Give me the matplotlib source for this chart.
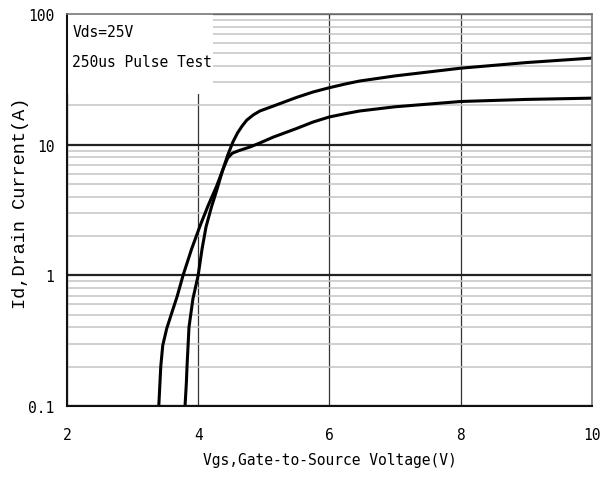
import numpy as np
import matplotlib.pyplot as plt
from matplotlib.ticker import LogLocator, NullFormatter
from matplotlib.patches import Rectangle

# transfer characteristics, two curves read at Vds=25V
vgs_a = [3.80, 3.82, 3.83, 3.86, 3.92, 4.00, 4.06, 4.12, 4.20, 4.29, 4.37, 4.45,
         4.53, 4.60, 4.67, 4.74, 4.84, 4.94, 5.14, 5.50, 5.75, 6.00, 6.25, 6.46,
         7.00, 8.00, 9.00, 10.00]
id_a = [0.10, 0.15, 0.20, 0.40, 0.66, 1.00, 1.60, 2.35, 3.30, 4.60, 6.30, 8.30,
        10.5, 12.3, 13.9, 15.4, 16.9, 18.1, 19.7, 23.0, 25.3, 27.3, 29.2, 30.7,
        33.6, 38.5, 42.5, 46.0]

vgs_b = [3.40, 3.43, 3.46, 3.52, 3.60, 3.68, 3.77, 3.90, 4.03, 4.15, 4.28, 4.39,
         4.45, 4.52, 4.62, 4.79, 4.94, 5.14, 5.50, 5.75, 6.00, 6.25, 6.46, 7.00,
         8.00, 9.00, 10.00]
id_b = [0.10, 0.20, 0.29, 0.39, 0.52, 0.69, 1.00, 1.59, 2.40, 3.40, 4.80, 6.70,
        7.90, 8.60, 9.00, 9.60, 10.3, 11.4, 13.3, 14.9, 16.3, 17.3, 18.1, 19.5,
        21.4, 22.2, 22.7]

x_ticks = [2, 4, 6, 8, 10]
y_ticks = [0.1, 1, 10, 100]
y_tick_labels = ['0.1', '1', '10', '100']
notes = ['Vds=25V', '250us Pulse Test']

mono = 'DejaVu Sans Mono'

fig = plt.figure(figsize=(6.14, 4.85), dpi=100)
ax = fig.add_axes([0.109, 0.161, 0.855, 0.808])

ax.set_yscale('log')
ax.set_xlim(2, 10)
ax.set_ylim(0.1, 100)
ax.set_xticks(x_ticks)
ax.set_xticklabels([str(v) for v in x_ticks], family=mono, fontsize=10.5)
ax.set_yticks(y_ticks)
ax.set_yticklabels(y_tick_labels, family=mono, fontsize=10.5)
ax.yaxis.set_minor_locator(LogLocator(base=10, subs=np.arange(2, 10)))
ax.yaxis.set_minor_formatter(NullFormatter())
ax.tick_params(which='both', length=0)
ax.tick_params(axis='x', pad=15)
ax.tick_params(axis='y', pad=9)

ax.set_axisbelow(True)
ax.grid(axis='x', which='major', color='#333333', lw=0.9)
ax.grid(axis='y', which='major', color='#222222', lw=1.6)
ax.grid(axis='y', which='minor', color='#c4c4c4', lw=1.1)

for side in ['left', 'bottom']:
    ax.spines[side].set_color('#111111')
    ax.spines[side].set_linewidth(1.5)
for side in ['top', 'right']:
    ax.spines[side].set_color('#777777')
    ax.spines[side].set_linewidth(1.2)

# white panel behind the test conditions
ax.add_patch(Rectangle((0, 0.796), 0.278, 0.204, transform=ax.transAxes,
                       facecolor='white', edgecolor='none', zorder=1))
ax.text(0.01, 0.955, notes[0], transform=ax.transAxes, family=mono,
        fontsize=10.5, va='center', ha='left', zorder=3)
ax.text(0.01, 0.878, notes[1], transform=ax.transAxes, family=mono,
        fontsize=10.5, va='center', ha='left', zorder=3)

ax.plot(vgs_a, id_a, color='black', lw=2.2, solid_joinstyle='round', zorder=2)
ax.plot(vgs_b, id_b, color='black', lw=2.2, solid_joinstyle='round', zorder=2)

ax.set_xlabel('Vgs,Gate-to-Source Voltage(V)', family=mono, fontsize=10.5)
ax.xaxis.set_label_coords(0.5, -0.118)
ax.set_ylabel('Id,Drain Current(A)', family='Liberation Mono', fontsize=13.4)
ax.yaxis.set_label_coords(-0.072, 0.519)

fig.savefig('out.png', dpi=100)
